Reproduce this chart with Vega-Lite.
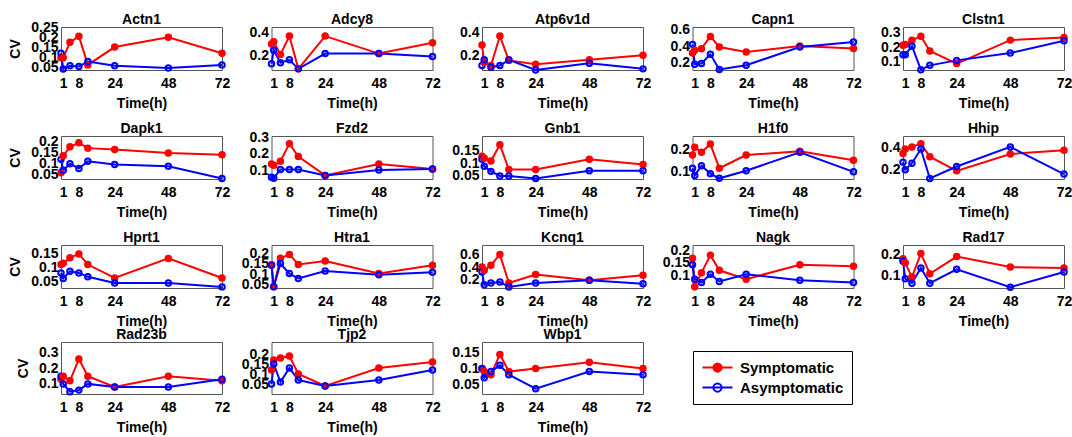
{
"$schema":"https://vega.github.io/schema/vega-lite/v6.json",
"background":"white",
"padding":{"left":8,"top":12,"right":5,"bottom":2},
"datasets":{"cv":[
{"g":"Actn1","t":0,"Symptomatic":0.10,"Asymptomatic":0.122},{"g":"Actn1","t":1,"Symptomatic":0.10,"Asymptomatic":0.045},{"g":"Actn1","t":4,"Symptomatic":0.175,"Asymptomatic":0.061},{"g":"Actn1","t":8,"Symptomatic":0.205,"Asymptomatic":0.057},{"g":"Actn1","t":12,"Symptomatic":0.065,"Asymptomatic":0.081},{"g":"Actn1","t":24,"Symptomatic":0.152,"Asymptomatic":0.061},{"g":"Actn1","t":48,"Symptomatic":0.20,"Asymptomatic":0.05},{"g":"Actn1","t":72,"Symptomatic":0.122,"Asymptomatic":0.065},
{"g":"Adcy8","t":0,"Symptomatic":0.30,"Asymptomatic":0.125},{"g":"Adcy8","t":1,"Symptomatic":0.32,"Asymptomatic":0.245},{"g":"Adcy8","t":4,"Symptomatic":0.206,"Asymptomatic":0.134},{"g":"Adcy8","t":8,"Symptomatic":0.37,"Asymptomatic":0.16},{"g":"Adcy8","t":12,"Symptomatic":0.08,"Asymptomatic":0.08},{"g":"Adcy8","t":24,"Symptomatic":0.37,"Asymptomatic":0.215},{"g":"Adcy8","t":48,"Symptomatic":0.215,"Asymptomatic":0.215},{"g":"Adcy8","t":72,"Symptomatic":0.31,"Asymptomatic":0.19},
{"g":"Atp6v1d","t":0,"Symptomatic":0.29,"Asymptomatic":0.11},{"g":"Atp6v1d","t":1,"Symptomatic":0.14,"Asymptomatic":0.16},{"g":"Atp6v1d","t":4,"Symptomatic":0.11,"Asymptomatic":0.095},{"g":"Atp6v1d","t":8,"Symptomatic":0.37,"Asymptomatic":0.11},{"g":"Atp6v1d","t":12,"Symptomatic":0.155,"Asymptomatic":0.16},{"g":"Atp6v1d","t":24,"Symptomatic":0.12,"Asymptomatic":0.07},{"g":"Atp6v1d","t":48,"Symptomatic":0.16,"Asymptomatic":0.13},{"g":"Atp6v1d","t":72,"Symptomatic":0.20,"Asymptomatic":0.08},
{"g":"Capn1","t":0,"Symptomatic":0.316,"Asymptomatic":0.42},{"g":"Capn1","t":1,"Symptomatic":0.35,"Asymptomatic":0.18},{"g":"Capn1","t":4,"Symptomatic":0.368,"Asymptomatic":0.188},{"g":"Capn1","t":8,"Symptomatic":0.516,"Asymptomatic":0.30},{"g":"Capn1","t":12,"Symptomatic":0.388,"Asymptomatic":0.116},{"g":"Capn1","t":24,"Symptomatic":0.328,"Asymptomatic":0.168},{"g":"Capn1","t":48,"Symptomatic":0.40,"Asymptomatic":0.388},{"g":"Capn1","t":72,"Symptomatic":0.37,"Asymptomatic":0.448},
{"g":"Clstn1","t":0,"Symptomatic":0.215,"Asymptomatic":0.15},{"g":"Clstn1","t":1,"Symptomatic":0.22,"Asymptomatic":0.15},{"g":"Clstn1","t":4,"Symptomatic":0.25,"Asymptomatic":0.208},{"g":"Clstn1","t":8,"Symptomatic":0.277,"Asymptomatic":0.047},{"g":"Clstn1","t":12,"Symptomatic":0.176,"Asymptomatic":0.077},{"g":"Clstn1","t":24,"Symptomatic":0.089,"Asymptomatic":0.111},{"g":"Clstn1","t":48,"Symptomatic":0.25,"Asymptomatic":0.162},{"g":"Clstn1","t":72,"Symptomatic":0.268,"Asymptomatic":0.245},
{"g":"Dapk1","t":0,"Symptomatic":0.058,"Asymptomatic":0.119},{"g":"Dapk1","t":1,"Symptomatic":0.135,"Asymptomatic":0.07},{"g":"Dapk1","t":4,"Symptomatic":0.176,"Asymptomatic":0.099},{"g":"Dapk1","t":8,"Symptomatic":0.194,"Asymptomatic":0.078},{"g":"Dapk1","t":12,"Symptomatic":0.17,"Asymptomatic":0.11},{"g":"Dapk1","t":24,"Symptomatic":0.164,"Asymptomatic":0.096},{"g":"Dapk1","t":48,"Symptomatic":0.148,"Asymptomatic":0.088},{"g":"Dapk1","t":72,"Symptomatic":0.14,"Asymptomatic":0.032},
{"g":"Fzd2","t":0,"Symptomatic":0.137,"Asymptomatic":0.056},{"g":"Fzd2","t":1,"Symptomatic":0.13,"Asymptomatic":0.05},{"g":"Fzd2","t":4,"Symptomatic":0.154,"Asymptomatic":0.104},{"g":"Fzd2","t":8,"Symptomatic":0.263,"Asymptomatic":0.104},{"g":"Fzd2","t":12,"Symptomatic":0.183,"Asymptomatic":0.104},{"g":"Fzd2","t":24,"Symptomatic":0.067,"Asymptomatic":0.067},{"g":"Fzd2","t":48,"Symptomatic":0.137,"Asymptomatic":0.10},{"g":"Fzd2","t":72,"Symptomatic":0.106,"Asymptomatic":0.106},
{"g":"Gnb1","t":0,"Symptomatic":0.127,"Asymptomatic":0.116},{"g":"Gnb1","t":1,"Symptomatic":0.12,"Asymptomatic":0.088},{"g":"Gnb1","t":4,"Symptomatic":0.109,"Asymptomatic":0.068},{"g":"Gnb1","t":8,"Symptomatic":0.173,"Asymptomatic":0.05},{"g":"Gnb1","t":12,"Symptomatic":0.075,"Asymptomatic":0.05},{"g":"Gnb1","t":24,"Symptomatic":0.075,"Asymptomatic":0.04},{"g":"Gnb1","t":48,"Symptomatic":0.116,"Asymptomatic":0.07},{"g":"Gnb1","t":72,"Symptomatic":0.095,"Asymptomatic":0.07},
{"g":"H1f0","t":0,"Symptomatic":0.175,"Asymptomatic":0.116},{"g":"H1f0","t":1,"Symptomatic":0.21,"Asymptomatic":0.084},{"g":"H1f0","t":4,"Symptomatic":0.187,"Asymptomatic":0.127},{"g":"H1f0","t":8,"Symptomatic":0.224,"Asymptomatic":0.092},{"g":"H1f0","t":12,"Symptomatic":0.116,"Asymptomatic":0.071},{"g":"H1f0","t":24,"Symptomatic":0.175,"Asymptomatic":0.105},{"g":"H1f0","t":48,"Symptomatic":0.192,"Asymptomatic":0.187},{"g":"H1f0","t":72,"Symptomatic":0.152,"Asymptomatic":0.10},
{"g":"Hhip","t":0,"Symptomatic":0.35,"Asymptomatic":0.27},{"g":"Hhip","t":1,"Symptomatic":0.39,"Asymptomatic":0.20},{"g":"Hhip","t":4,"Symptomatic":0.41,"Asymptomatic":0.26},{"g":"Hhip","t":8,"Symptomatic":0.44,"Asymptomatic":0.39},{"g":"Hhip","t":12,"Symptomatic":0.32,"Asymptomatic":0.12},{"g":"Hhip","t":24,"Symptomatic":0.19,"Asymptomatic":0.23},{"g":"Hhip","t":48,"Symptomatic":0.345,"Asymptomatic":0.41},{"g":"Hhip","t":72,"Symptomatic":0.38,"Asymptomatic":0.16},
{"g":"Hprt1","t":0,"Symptomatic":0.11,"Asymptomatic":0.08},{"g":"Hprt1","t":1,"Symptomatic":0.115,"Asymptomatic":0.06},{"g":"Hprt1","t":4,"Symptomatic":0.134,"Asymptomatic":0.086},{"g":"Hprt1","t":8,"Symptomatic":0.148,"Asymptomatic":0.08},{"g":"Hprt1","t":12,"Symptomatic":0.11,"Asymptomatic":0.066},{"g":"Hprt1","t":24,"Symptomatic":0.062,"Asymptomatic":0.044},{"g":"Hprt1","t":48,"Symptomatic":0.132,"Asymptomatic":0.044},{"g":"Hprt1","t":72,"Symptomatic":0.062,"Asymptomatic":0.03},
{"g":"Htra1","t":0,"Symptomatic":0.145,"Asymptomatic":0.143},{"g":"Htra1","t":1,"Symptomatic":0.04,"Asymptomatic":0.04},{"g":"Htra1","t":4,"Symptomatic":0.176,"Asymptomatic":0.151},{"g":"Htra1","t":8,"Symptomatic":0.195,"Asymptomatic":0.103},{"g":"Htra1","t":12,"Symptomatic":0.147,"Asymptomatic":0.08},{"g":"Htra1","t":24,"Symptomatic":0.163,"Asymptomatic":0.115},{"g":"Htra1","t":48,"Symptomatic":0.103,"Asymptomatic":0.098},{"g":"Htra1","t":72,"Symptomatic":0.143,"Asymptomatic":0.11},
{"g":"Kcnq1","t":0,"Symptomatic":0.40,"Asymptomatic":0.32},{"g":"Kcnq1","t":1,"Symptomatic":0.35,"Asymptomatic":0.12},{"g":"Kcnq1","t":4,"Symptomatic":0.43,"Asymptomatic":0.147},{"g":"Kcnq1","t":8,"Symptomatic":0.60,"Asymptomatic":0.163},{"g":"Kcnq1","t":12,"Symptomatic":0.147,"Asymptomatic":0.083},{"g":"Kcnq1","t":24,"Symptomatic":0.28,"Asymptomatic":0.147},{"g":"Kcnq1","t":48,"Symptomatic":0.19,"Asymptomatic":0.19},{"g":"Kcnq1","t":72,"Symptomatic":0.27,"Asymptomatic":0.136},
{"g":"Nagk","t":0,"Symptomatic":0.168,"Asymptomatic":0.142},{"g":"Nagk","t":1,"Symptomatic":0.055,"Asymptomatic":0.085},{"g":"Nagk","t":4,"Symptomatic":0.11,"Asymptomatic":0.072},{"g":"Nagk","t":8,"Symptomatic":0.18,"Asymptomatic":0.104},{"g":"Nagk","t":12,"Symptomatic":0.12,"Asymptomatic":0.076},{"g":"Nagk","t":24,"Symptomatic":0.085,"Asymptomatic":0.104},{"g":"Nagk","t":48,"Symptomatic":0.142,"Asymptomatic":0.081},{"g":"Nagk","t":72,"Symptomatic":0.136,"Asymptomatic":0.072},
{"g":"Rad17","t":0,"Symptomatic":0.18,"Asymptomatic":0.168},{"g":"Rad17","t":1,"Symptomatic":0.16,"Asymptomatic":0.084},{"g":"Rad17","t":4,"Symptomatic":0.092,"Asymptomatic":0.063},{"g":"Rad17","t":8,"Symptomatic":0.205,"Asymptomatic":0.135},{"g":"Rad17","t":12,"Symptomatic":0.108,"Asymptomatic":0.063},{"g":"Rad17","t":24,"Symptomatic":0.19,"Asymptomatic":0.129},{"g":"Rad17","t":48,"Symptomatic":0.14,"Asymptomatic":0.044},{"g":"Rad17","t":72,"Symptomatic":0.135,"Asymptomatic":0.116},
{"g":"Rad23b","t":0,"Symptomatic":0.13,"Asymptomatic":0.15},{"g":"Rad23b","t":1,"Symptomatic":0.15,"Asymptomatic":0.10},{"g":"Rad23b","t":4,"Symptomatic":0.12,"Asymptomatic":0.05},{"g":"Rad23b","t":8,"Symptomatic":0.26,"Asymptomatic":0.06},{"g":"Rad23b","t":12,"Symptomatic":0.15,"Asymptomatic":0.10},{"g":"Rad23b","t":24,"Symptomatic":0.08,"Asymptomatic":0.08},{"g":"Rad23b","t":48,"Symptomatic":0.15,"Asymptomatic":0.08},{"g":"Rad23b","t":72,"Symptomatic":0.12,"Asymptomatic":0.13},
{"g":"Tjp2","t":0,"Symptomatic":0.12,"Asymptomatic":0.05},{"g":"Tjp2","t":1,"Symptomatic":0.17,"Asymptomatic":0.15},{"g":"Tjp2","t":4,"Symptomatic":0.18,"Asymptomatic":0.06},{"g":"Tjp2","t":8,"Symptomatic":0.19,"Asymptomatic":0.13},{"g":"Tjp2","t":12,"Symptomatic":0.10,"Asymptomatic":0.07},{"g":"Tjp2","t":24,"Symptomatic":0.04,"Asymptomatic":0.04},{"g":"Tjp2","t":48,"Symptomatic":0.13,"Asymptomatic":0.07},{"g":"Tjp2","t":72,"Symptomatic":0.16,"Asymptomatic":0.12},
{"g":"Wbp1","t":0,"Symptomatic":0.10,"Asymptomatic":0.10},{"g":"Wbp1","t":1,"Symptomatic":0.09,"Asymptomatic":0.07},{"g":"Wbp1","t":4,"Symptomatic":0.08,"Asymptomatic":0.09},{"g":"Wbp1","t":8,"Symptomatic":0.145,"Asymptomatic":0.11},{"g":"Wbp1","t":12,"Symptomatic":0.09,"Asymptomatic":0.08},{"g":"Wbp1","t":24,"Symptomatic":0.10,"Asymptomatic":0.035},{"g":"Wbp1","t":48,"Symptomatic":0.12,"Asymptomatic":0.09},{"g":"Wbp1","t":72,"Symptomatic":0.10,"Asymptomatic":0.08}
]},
"data":{"name":"cv"},
"transform":[{"fold":["Symptomatic","Asymptomatic"],"as":["group","cv"]}],
"spacing":-2,
"bounds":"full",
"resolve":{"scale":{"color":"shared","fill":"shared","stroke":"shared"},"legend":{"color":"shared"}},
"vconcat":[
{"columns":5,"spacing":{"row":66,"column":49.5},"bounds":"flush",
"concat":[
{"title":{"text":"Actn1","offset":-7},"width":161,"height":43,"transform":[{"filter":"datum.g==='Actn1'"}],
 "encoding":{"x":{"field":"t","type":"quantitative","scale":{"domain":[0,72],"nice":false},"axis":{"values":[1,8,24,48,72],"title":"Time(h)"}},
  "y":{"field":"cv","type":"quantitative","scale":{"domain":[0.04,0.25],"nice":false,"zero":false},"axis":{"values":[0.05,0.1,0.15,0.2,0.25],"format":"~g","title":"CV"}}},
 "layer":[
  {"mark":{"type":"line","strokeWidth":2},"encoding":{"color":{"field":"group","type":"nominal","scale":{"domain":["Symptomatic","Asymptomatic"],"range":["#ff0000","#0000ff"]},
   "legend":{"title":null,"orient":"none","legendX":632,"legendY":324,"labelFontSize":15,"labelFontWeight":"bold","labelColor":"black","strokeColor":"black","fillColor":"white","padding":8,"symbolType":"M-2,0L2,0M-0.55,0A0.55,0.55,0,1,1,0.55,0A0.55,0.55,0,1,1,-0.55,0","symbolSize":225,"symbolStrokeWidth":2,"symbolOffset":8,"labelOffset":14,"rowPadding":3,"cornerRadius":0,
    "encode":{"symbols":{"update":{"fill":{"signal":"datum.value==='Symptomatic'?'#ff0000':'white'"}}}}}}}},
  {"mark":{"type":"point","filled":true,"size":30,"strokeWidth":2,"opacity":1},"encoding":{"fill":{"field":"group","type":"nominal","scale":{"domain":["Symptomatic","Asymptomatic"],"range":["#ff0000","transparent"]},"legend":null},"stroke":{"field":"group","type":"nominal","scale":{"domain":["Symptomatic","Asymptomatic"],"range":["#ff0000","#0000ff"]},"legend":null}}}
 ]},
{"title":{"text":"Adcy8","offset":-1.3},"width":161,"height":43,"transform":[{"filter":"datum.g==='Adcy8'"}],
 "encoding":{"x":{"field":"t","type":"quantitative","scale":{"domain":[0,72],"nice":false},"axis":{"values":[1,8,24,48,72],"title":"Time(h)"}},
  "y":{"field":"cv","type":"quantitative","scale":{"domain":[0.07,0.45],"nice":false,"zero":false},"axis":{"values":[0.2,0.4],"format":"~g","title":null}}},
 "layer":[
  {"mark":{"type":"line","strokeWidth":2},"encoding":{"color":{"field":"group","type":"nominal","scale":{"domain":["Symptomatic","Asymptomatic"],"range":["#ff0000","#0000ff"]}}}},
  {"mark":{"type":"point","filled":true,"size":30,"strokeWidth":2,"opacity":1},"encoding":{"fill":{"field":"group","type":"nominal","scale":{"domain":["Symptomatic","Asymptomatic"],"range":["#ff0000","transparent"]},"legend":null},"stroke":{"field":"group","type":"nominal","scale":{"domain":["Symptomatic","Asymptomatic"],"range":["#ff0000","#0000ff"]},"legend":null}}}
 ]},
{"title":{"text":"Atp6v1d","offset":-1.3},"width":161,"height":43,"transform":[{"filter":"datum.g==='Atp6v1d'"}],
 "encoding":{"x":{"field":"t","type":"quantitative","scale":{"domain":[0,72],"nice":false},"axis":{"values":[1,8,24,48,72],"title":"Time(h)"}},
  "y":{"field":"cv","type":"quantitative","scale":{"domain":[0.07,0.45],"nice":false,"zero":false},"axis":{"values":[0.2,0.4],"format":"~g","title":null}}},
 "layer":[
  {"mark":{"type":"line","strokeWidth":2},"encoding":{"color":{"field":"group","type":"nominal","scale":{"domain":["Symptomatic","Asymptomatic"],"range":["#ff0000","#0000ff"]}}}},
  {"mark":{"type":"point","filled":true,"size":30,"strokeWidth":2,"opacity":1},"encoding":{"fill":{"field":"group","type":"nominal","scale":{"domain":["Symptomatic","Asymptomatic"],"range":["#ff0000","transparent"]},"legend":null},"stroke":{"field":"group","type":"nominal","scale":{"domain":["Symptomatic","Asymptomatic"],"range":["#ff0000","#0000ff"]},"legend":null}}}
 ]},
{"title":{"text":"Capn1","offset":-4.5},"width":161,"height":43,"transform":[{"filter":"datum.g==='Capn1'"}],
 "encoding":{"x":{"field":"t","type":"quantitative","scale":{"domain":[0,72],"nice":false},"axis":{"values":[1,8,24,48,72],"title":"Time(h)"}},
  "y":{"field":"cv","type":"quantitative","scale":{"domain":[0.11,0.63],"nice":false,"zero":false},"axis":{"values":[0.2,0.4,0.6],"format":".1f","title":null}}},
 "layer":[
  {"mark":{"type":"line","strokeWidth":2},"encoding":{"color":{"field":"group","type":"nominal","scale":{"domain":["Symptomatic","Asymptomatic"],"range":["#ff0000","#0000ff"]}}}},
  {"mark":{"type":"point","filled":true,"size":30,"strokeWidth":2,"opacity":1},"encoding":{"fill":{"field":"group","type":"nominal","scale":{"domain":["Symptomatic","Asymptomatic"],"range":["#ff0000","transparent"]},"legend":null},"stroke":{"field":"group","type":"nominal","scale":{"domain":["Symptomatic","Asymptomatic"],"range":["#ff0000","#0000ff"]},"legend":null}}}
 ]},
{"title":{"text":"Clstn1","offset":-1.2},"width":161,"height":43,"transform":[{"filter":"datum.g==='Clstn1'"}],
 "encoding":{"x":{"field":"t","type":"quantitative","scale":{"domain":[0,72],"nice":false},"axis":{"values":[1,8,24,48,72],"title":"Time(h)"}},
  "y":{"field":"cv","type":"quantitative","scale":{"domain":[0.045,0.34],"nice":false,"zero":false},"axis":{"values":[0.1,0.2,0.3],"format":"~g","title":null}}},
 "layer":[
  {"mark":{"type":"line","strokeWidth":2},"encoding":{"color":{"field":"group","type":"nominal","scale":{"domain":["Symptomatic","Asymptomatic"],"range":["#ff0000","#0000ff"]}}}},
  {"mark":{"type":"point","filled":true,"size":30,"strokeWidth":2,"opacity":1},"encoding":{"fill":{"field":"group","type":"nominal","scale":{"domain":["Symptomatic","Asymptomatic"],"range":["#ff0000","transparent"]},"legend":null},"stroke":{"field":"group","type":"nominal","scale":{"domain":["Symptomatic","Asymptomatic"],"range":["#ff0000","#0000ff"]},"legend":null}}}
 ]},
{"title":{"text":"Dapk1","offset":-1.5},"width":161,"height":43,"transform":[{"filter":"datum.g==='Dapk1'"}],
 "encoding":{"x":{"field":"t","type":"quantitative","scale":{"domain":[0,72],"nice":false},"axis":{"values":[1,8,24,48,72],"title":"Time(h)"}},
  "y":{"field":"cv","type":"quantitative","scale":{"domain":[0.03,0.225],"nice":false,"zero":false},"axis":{"values":[0.05,0.1,0.15,0.2],"format":"~g","title":"CV"}}},
 "layer":[
  {"mark":{"type":"line","strokeWidth":2},"encoding":{"color":{"field":"group","type":"nominal","scale":{"domain":["Symptomatic","Asymptomatic"],"range":["#ff0000","#0000ff"]}}}},
  {"mark":{"type":"point","filled":true,"size":30,"strokeWidth":2,"opacity":1},"encoding":{"fill":{"field":"group","type":"nominal","scale":{"domain":["Symptomatic","Asymptomatic"],"range":["#ff0000","transparent"]},"legend":null},"stroke":{"field":"group","type":"nominal","scale":{"domain":["Symptomatic","Asymptomatic"],"range":["#ff0000","#0000ff"]},"legend":null}}}
 ]},
{"title":{"text":"Fzd2","offset":-5.4},"width":161,"height":43,"transform":[{"filter":"datum.g==='Fzd2'"}],
 "encoding":{"x":{"field":"t","type":"quantitative","scale":{"domain":[0,72],"nice":false},"axis":{"values":[1,8,24,48,72],"title":"Time(h)"}},
  "y":{"field":"cv","type":"quantitative","scale":{"domain":[0.045,0.31],"nice":false,"zero":false},"axis":{"values":[0.1,0.2,0.3],"format":"~g","title":null}}},
 "layer":[
  {"mark":{"type":"line","strokeWidth":2},"encoding":{"color":{"field":"group","type":"nominal","scale":{"domain":["Symptomatic","Asymptomatic"],"range":["#ff0000","#0000ff"]}}}},
  {"mark":{"type":"point","filled":true,"size":30,"strokeWidth":2,"opacity":1},"encoding":{"fill":{"field":"group","type":"nominal","scale":{"domain":["Symptomatic","Asymptomatic"],"range":["#ff0000","transparent"]},"legend":null},"stroke":{"field":"group","type":"nominal","scale":{"domain":["Symptomatic","Asymptomatic"],"range":["#ff0000","#0000ff"]},"legend":null}}}
 ]},
{"title":{"text":"Gnb1","offset":0},"width":161,"height":43,"transform":[{"filter":"datum.g==='Gnb1'"}],
 "encoding":{"x":{"field":"t","type":"quantitative","scale":{"domain":[0,72],"nice":false},"axis":{"values":[1,8,24,48,72],"title":"Time(h)"}},
  "y":{"field":"cv","type":"quantitative","scale":{"domain":[0.038,0.207],"nice":false,"zero":false},"axis":{"values":[0.05,0.1,0.15],"format":"~g","title":null}}},
 "layer":[
  {"mark":{"type":"line","strokeWidth":2},"encoding":{"color":{"field":"group","type":"nominal","scale":{"domain":["Symptomatic","Asymptomatic"],"range":["#ff0000","#0000ff"]}}}},
  {"mark":{"type":"point","filled":true,"size":30,"strokeWidth":2,"opacity":1},"encoding":{"fill":{"field":"group","type":"nominal","scale":{"domain":["Symptomatic","Asymptomatic"],"range":["#ff0000","transparent"]},"legend":null},"stroke":{"field":"group","type":"nominal","scale":{"domain":["Symptomatic","Asymptomatic"],"range":["#ff0000","#0000ff"]},"legend":null}}}
 ]},
{"title":{"text":"H1f0","offset":0},"width":161,"height":43,"transform":[{"filter":"datum.g==='H1f0'"}],
 "encoding":{"x":{"field":"t","type":"quantitative","scale":{"domain":[0,72],"nice":false},"axis":{"values":[1,8,24,48,72],"title":"Time(h)"}},
  "y":{"field":"cv","type":"quantitative","scale":{"domain":[0.068,0.26],"nice":false,"zero":false},"axis":{"values":[0.1,0.2],"format":"~g","title":null}}},
 "layer":[
  {"mark":{"type":"line","strokeWidth":2},"encoding":{"color":{"field":"group","type":"nominal","scale":{"domain":["Symptomatic","Asymptomatic"],"range":["#ff0000","#0000ff"]}}}},
  {"mark":{"type":"point","filled":true,"size":30,"strokeWidth":2,"opacity":1},"encoding":{"fill":{"field":"group","type":"nominal","scale":{"domain":["Symptomatic","Asymptomatic"],"range":["#ff0000","transparent"]},"legend":null},"stroke":{"field":"group","type":"nominal","scale":{"domain":["Symptomatic","Asymptomatic"],"range":["#ff0000","#0000ff"]},"legend":null}}}
 ]},
{"title":{"text":"Hhip","offset":0},"width":161,"height":43,"transform":[{"filter":"datum.g==='Hhip'"}],
 "encoding":{"x":{"field":"t","type":"quantitative","scale":{"domain":[0,72],"nice":false},"axis":{"values":[1,8,24,48,72],"title":"Time(h)"}},
  "y":{"field":"cv","type":"quantitative","scale":{"domain":[0.115,0.51],"nice":false,"zero":false},"axis":{"values":[0.2,0.4],"format":"~g","title":null}}},
 "layer":[
  {"mark":{"type":"line","strokeWidth":2},"encoding":{"color":{"field":"group","type":"nominal","scale":{"domain":["Symptomatic","Asymptomatic"],"range":["#ff0000","#0000ff"]}}}},
  {"mark":{"type":"point","filled":true,"size":30,"strokeWidth":2,"opacity":1},"encoding":{"fill":{"field":"group","type":"nominal","scale":{"domain":["Symptomatic","Asymptomatic"],"range":["#ff0000","transparent"]},"legend":null},"stroke":{"field":"group","type":"nominal","scale":{"domain":["Symptomatic","Asymptomatic"],"range":["#ff0000","#0000ff"]},"legend":null}}}
 ]},
{"title":{"text":"Hprt1","offset":0},"width":161,"height":43,"transform":[{"filter":"datum.g==='Hprt1'"}],
 "encoding":{"x":{"field":"t","type":"quantitative","scale":{"domain":[0,72],"nice":false},"axis":{"values":[1,8,24,48,72],"title":"Time(h)"}},
  "y":{"field":"cv","type":"quantitative","scale":{"domain":[0.026,0.18],"nice":false,"zero":false},"axis":{"values":[0.05,0.1,0.15],"format":"~g","title":"CV"}}},
 "layer":[
  {"mark":{"type":"line","strokeWidth":2},"encoding":{"color":{"field":"group","type":"nominal","scale":{"domain":["Symptomatic","Asymptomatic"],"range":["#ff0000","#0000ff"]}}}},
  {"mark":{"type":"point","filled":true,"size":30,"strokeWidth":2,"opacity":1},"encoding":{"fill":{"field":"group","type":"nominal","scale":{"domain":["Symptomatic","Asymptomatic"],"range":["#ff0000","transparent"]},"legend":null},"stroke":{"field":"group","type":"nominal","scale":{"domain":["Symptomatic","Asymptomatic"],"range":["#ff0000","#0000ff"]},"legend":null}}}
 ]},
{"title":{"text":"Htra1","offset":0},"width":161,"height":43,"transform":[{"filter":"datum.g==='Htra1'"}],
 "encoding":{"x":{"field":"t","type":"quantitative","scale":{"domain":[0,72],"nice":false},"axis":{"values":[1,8,24,48,72],"title":"Time(h)"}},
  "y":{"field":"cv","type":"quantitative","scale":{"domain":[0.034,0.24],"nice":false,"zero":false},"axis":{"values":[0.05,0.1,0.15,0.2],"format":"~g","title":null}}},
 "layer":[
  {"mark":{"type":"line","strokeWidth":2},"encoding":{"color":{"field":"group","type":"nominal","scale":{"domain":["Symptomatic","Asymptomatic"],"range":["#ff0000","#0000ff"]}}}},
  {"mark":{"type":"point","filled":true,"size":30,"strokeWidth":2,"opacity":1},"encoding":{"fill":{"field":"group","type":"nominal","scale":{"domain":["Symptomatic","Asymptomatic"],"range":["#ff0000","transparent"]},"legend":null},"stroke":{"field":"group","type":"nominal","scale":{"domain":["Symptomatic","Asymptomatic"],"range":["#ff0000","#0000ff"]},"legend":null}}}
 ]},
{"title":{"text":"Kcnq1","offset":0},"width":161,"height":43,"transform":[{"filter":"datum.g==='Kcnq1'"}],
 "encoding":{"x":{"field":"t","type":"quantitative","scale":{"domain":[0,72],"nice":false},"axis":{"values":[1,8,24,48,72],"title":"Time(h)"}},
  "y":{"field":"cv","type":"quantitative","scale":{"domain":[0.067,0.75],"nice":false,"zero":false},"axis":{"values":[0.2,0.4,0.6],"format":".1f","title":null}}},
 "layer":[
  {"mark":{"type":"line","strokeWidth":2},"encoding":{"color":{"field":"group","type":"nominal","scale":{"domain":["Symptomatic","Asymptomatic"],"range":["#ff0000","#0000ff"]}}}},
  {"mark":{"type":"point","filled":true,"size":30,"strokeWidth":2,"opacity":1},"encoding":{"fill":{"field":"group","type":"nominal","scale":{"domain":["Symptomatic","Asymptomatic"],"range":["#ff0000","transparent"]},"legend":null},"stroke":{"field":"group","type":"nominal","scale":{"domain":["Symptomatic","Asymptomatic"],"range":["#ff0000","#0000ff"]},"legend":null}}}
 ]},
{"title":{"text":"Nagk","offset":-1.9},"width":161,"height":43,"transform":[{"filter":"datum.g==='Nagk'"}],
 "encoding":{"x":{"field":"t","type":"quantitative","scale":{"domain":[0,72],"nice":false},"axis":{"values":[1,8,24,48,72],"title":"Time(h)"}},
  "y":{"field":"cv","type":"quantitative","scale":{"domain":[0.05,0.22],"nice":false,"zero":false},"axis":{"values":[0.1,0.15,0.2],"format":"~g","title":null}}},
 "layer":[
  {"mark":{"type":"line","strokeWidth":2},"encoding":{"color":{"field":"group","type":"nominal","scale":{"domain":["Symptomatic","Asymptomatic"],"range":["#ff0000","#0000ff"]}}}},
  {"mark":{"type":"point","filled":true,"size":30,"strokeWidth":2,"opacity":1},"encoding":{"fill":{"field":"group","type":"nominal","scale":{"domain":["Symptomatic","Asymptomatic"],"range":["#ff0000","transparent"]},"legend":null},"stroke":{"field":"group","type":"nominal","scale":{"domain":["Symptomatic","Asymptomatic"],"range":["#ff0000","#0000ff"]},"legend":null}}}
 ]},
{"title":{"text":"Rad17","offset":0},"width":161,"height":43,"transform":[{"filter":"datum.g==='Rad17'"}],
 "encoding":{"x":{"field":"t","type":"quantitative","scale":{"domain":[0,72],"nice":false},"axis":{"values":[1,8,24,48,72],"title":"Time(h)"}},
  "y":{"field":"cv","type":"quantitative","scale":{"domain":[0.04,0.245],"nice":false,"zero":false},"axis":{"values":[0.1,0.2],"format":"~g","title":null}}},
 "layer":[
  {"mark":{"type":"line","strokeWidth":2},"encoding":{"color":{"field":"group","type":"nominal","scale":{"domain":["Symptomatic","Asymptomatic"],"range":["#ff0000","#0000ff"]}}}},
  {"mark":{"type":"point","filled":true,"size":30,"strokeWidth":2,"opacity":1},"encoding":{"fill":{"field":"group","type":"nominal","scale":{"domain":["Symptomatic","Asymptomatic"],"range":["#ff0000","transparent"]},"legend":null},"stroke":{"field":"group","type":"nominal","scale":{"domain":["Symptomatic","Asymptomatic"],"range":["#ff0000","#0000ff"]},"legend":null}}}
 ]}
]},
{"spacing":49.5,"bounds":"flush",
"hconcat":[
{"title":{"text":"Rad23b","offset":0},"width":161,"height":52,"transform":[{"filter":"datum.g==='Rad23b'"}],
 "encoding":{"x":{"field":"t","type":"quantitative","scale":{"domain":[0,72],"nice":false},"axis":{"values":[1,8,24,48,72],"title":"Time(h)"}},
  "y":{"field":"cv","type":"quantitative","scale":{"domain":[0.035,0.37],"nice":false,"zero":false},"axis":{"values":[0.1,0.2,0.3],"format":"~g","title":"CV"}}},
 "layer":[
  {"mark":{"type":"line","strokeWidth":2},"encoding":{"color":{"field":"group","type":"nominal","scale":{"domain":["Symptomatic","Asymptomatic"],"range":["#ff0000","#0000ff"]}}}},
  {"mark":{"type":"point","filled":true,"size":30,"strokeWidth":2,"opacity":1},"encoding":{"fill":{"field":"group","type":"nominal","scale":{"domain":["Symptomatic","Asymptomatic"],"range":["#ff0000","transparent"]},"legend":null},"stroke":{"field":"group","type":"nominal","scale":{"domain":["Symptomatic","Asymptomatic"],"range":["#ff0000","#0000ff"]},"legend":null}}}
 ]},
{"title":{"text":"Tjp2","offset":0},"width":161,"height":52,"transform":[{"filter":"datum.g==='Tjp2'"}],
 "encoding":{"x":{"field":"t","type":"quantitative","scale":{"domain":[0,72],"nice":false},"axis":{"values":[1,8,24,48,72],"title":"Time(h)"}},
  "y":{"field":"cv","type":"quantitative","scale":{"domain":[0.0,0.26],"nice":false,"zero":false},"axis":{"values":[0.05,0.1,0.15,0.2],"format":"~g","title":null}}},
 "layer":[
  {"mark":{"type":"line","strokeWidth":2},"encoding":{"color":{"field":"group","type":"nominal","scale":{"domain":["Symptomatic","Asymptomatic"],"range":["#ff0000","#0000ff"]}}}},
  {"mark":{"type":"point","filled":true,"size":30,"strokeWidth":2,"opacity":1},"encoding":{"fill":{"field":"group","type":"nominal","scale":{"domain":["Symptomatic","Asymptomatic"],"range":["#ff0000","transparent"]},"legend":null},"stroke":{"field":"group","type":"nominal","scale":{"domain":["Symptomatic","Asymptomatic"],"range":["#ff0000","#0000ff"]},"legend":null}}}
 ]},
{"title":{"text":"Wbp1","offset":0},"width":161,"height":52,"transform":[{"filter":"datum.g==='Wbp1'"}],
 "encoding":{"x":{"field":"t","type":"quantitative","scale":{"domain":[0,72],"nice":false},"axis":{"values":[1,8,24,48,72],"title":"Time(h)"}},
  "y":{"field":"cv","type":"quantitative","scale":{"domain":[0.018,0.185],"nice":false,"zero":false},"axis":{"values":[0.05,0.1,0.15],"format":"~g","title":null}}},
 "layer":[
  {"mark":{"type":"line","strokeWidth":2},"encoding":{"color":{"field":"group","type":"nominal","scale":{"domain":["Symptomatic","Asymptomatic"],"range":["#ff0000","#0000ff"]}}}},
  {"mark":{"type":"point","filled":true,"size":30,"strokeWidth":2,"opacity":1},"encoding":{"fill":{"field":"group","type":"nominal","scale":{"domain":["Symptomatic","Asymptomatic"],"range":["#ff0000","transparent"]},"legend":null},"stroke":{"field":"group","type":"nominal","scale":{"domain":["Symptomatic","Asymptomatic"],"range":["#ff0000","#0000ff"]},"legend":null}}}
 ]}
]}
],
"config":{
 "font":"Liberation Sans",
 "view":{"stroke":"#555555","strokeWidth":1},
 "title":{"fontSize":14,"fontWeight":"bold","color":"black","offset":0,"anchor":"middle"},
 "axis":{"labelFontSize":14,"labelFontWeight":"bold","labelColor":"black","titleFontSize":14,"titleFontWeight":"bold","titleColor":"black","grid":false,"domain":false,"ticks":false,"labelOverlap":false,"labelFlush":false,"labelBound":false},
 "axisX":{"labelPadding":6,"titlePadding":6},
 "axisY":{"labelPadding":3,"titlePadding":8}
}
}
